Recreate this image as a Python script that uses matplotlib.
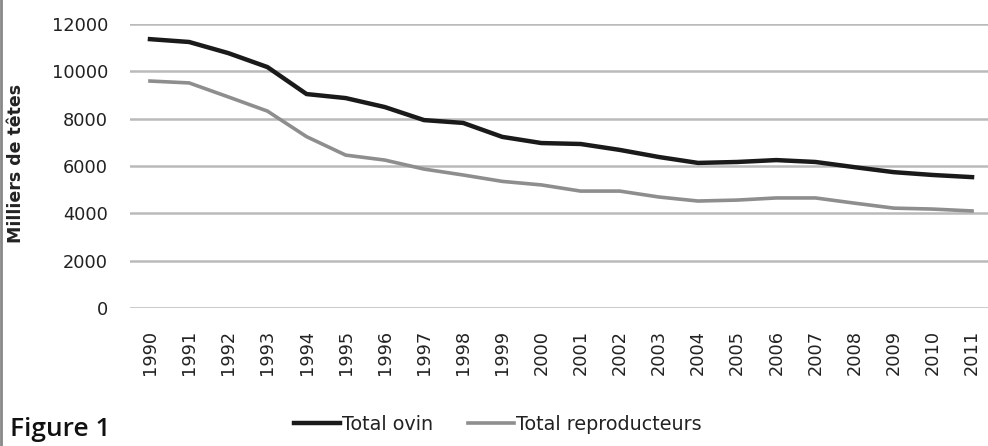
import matplotlib.pyplot as plt
from matplotlib.lines import Line2D

# Cheptel ovin en France, milliers de têtes
years = [str(y) for y in range(1990, 2012)]
total_ovin = [11360, 11240, 10770, 10180, 9040, 8870, 8490, 7940, 7820, 7230, 6970,
              6930, 6680, 6380, 6130, 6170, 6250, 6170, 5950, 5740, 5620, 5530]
total_repro = [9590, 9510, 8920, 8320, 7240, 6460, 6250, 5870, 5620, 5350, 5200,
               4940, 4940, 4690, 4520, 4560, 4650, 4650, 4430, 4220, 4180, 4100]
y_ticks = [0, 2000, 4000, 6000, 8000, 10000, 12000]

W, H = 988, 446
fig = plt.figure(figsize=(W / 100, H / 100), dpi=100)
ax = fig.add_axes([130.4 / W, (H - 308) / H, (991.6 - 130.4) / W, 284 / H])

x = range(len(years))
ax.plot(x, total_ovin, color='#1a1a1a', lw=3.2, solid_joinstyle='round', zorder=3)
ax.plot(x, total_repro, color='#8e8e8e', lw=2.6, solid_joinstyle='round', zorder=3)

ax.set_xlim(-0.5, len(years) - 0.5)
ax.set_ylim(0, 12000)
ax.set_yticks(y_ticks)
ax.set_yticklabels([str(v) for v in y_ticks], fontsize=12.8, color='#222222')
ax.set_xticks(list(x))
ax.set_xticklabels(years, rotation=90, fontsize=12.8, color='#222222')
ax.tick_params(axis='both', length=0)
ax.tick_params(axis='y', pad=16)
ax.tick_params(axis='x', pad=16)
ax.grid(axis='y', color='#bababa', lw=1.8)
ax.set_axisbelow(True)
for s in ax.spines.values():
    s.set_visible(False)

fig.text(16 / W, 1 - 163 / H, 'Milliers de têtes', rotation=90, fontsize=12.5,
         fontweight='bold', ha='center', va='center', color='#222222')

handles = [Line2D([], [], color='#1a1a1a', lw=3.2),
           Line2D([], [], color='#8e8e8e', lw=2.6)]
fig.legend(handles, ['Total ovin', 'Total reproducteurs'], loc='center',
           bbox_to_anchor=(498 / W, 1 - 424 / H), ncol=2, frameon=False,
           fontsize=13.8, handlelength=2.4, handletextpad=0.1, columnspacing=1.8,
           labelcolor='#222222', borderpad=0, borderaxespad=0)

fig.text(10 / W, 1 - 430 / H, 'Figure 1', fontsize=19, family='Open Sans',
         fontweight='semibold', ha='left', va='center', color='#111111')

# bordure gauche
fig.add_artist(Line2D([1 / W, 1 / W], [0, 1], color='#888888', lw=2,
                      transform=fig.transFigure))

fig.savefig('out.png', dpi=100)
